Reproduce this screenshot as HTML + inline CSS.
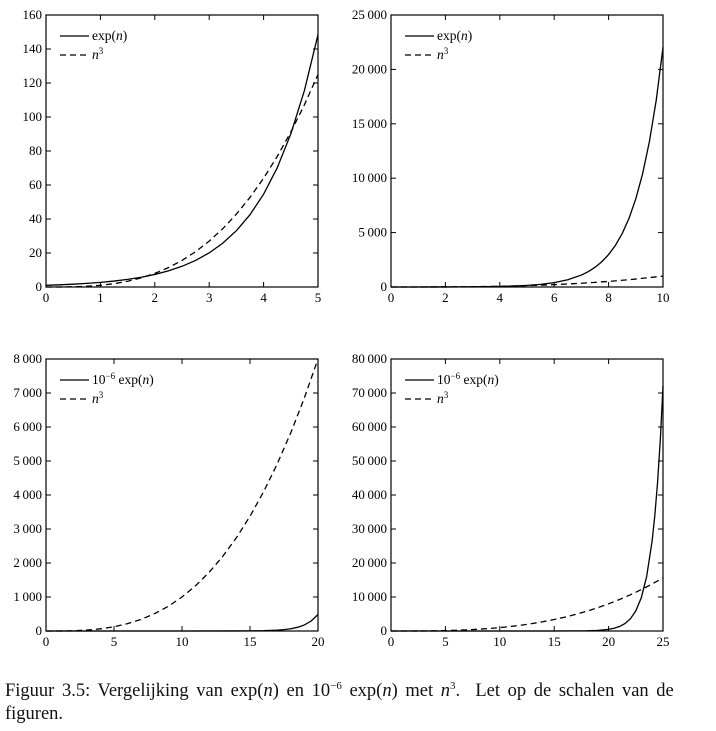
<!DOCTYPE html>
<html><head><meta charset="utf-8"><style>
body{margin:0;background:#fff;width:716px;height:731px;overflow:hidden;font-family:"Liberation Serif",serif}
svg text{font-family:"Liberation Serif",serif}
#cap{position:absolute;left:5px;top:675px;font-size:18.5px;line-height:23px;width:710px;color:#111;word-spacing:3px}
</style></head><body>
<svg id="chart" width="716" height="670" style="position:absolute;left:0;top:0"></svg>
<div id="cap">Figuur 3.5: Vergelijking van exp(<i>n</i>) en 10<sup style="font-size:11px">−6</sup> exp(<i>n</i>) met <i>n</i><sup style="font-size:11px">3</sup>. &nbsp;Let op de schalen van de<br>figuren.</div>
<script>
// Panel 1
const p1N=[0,0.25,0.5,0.75,1,1.25,1.5,1.75,2,2.25,2.5,2.75,3,3.25,3.5,3.75,4,4.25,4.5,4.75,5];
const p1Exp=[1,1.28,1.65,2.12,2.72,3.49,4.48,5.75,7.39,9.49,12.18,15.64,20.09,25.79,33.12,42.52,54.6,70.11,90.02,115.58,148.41];
const p1Cube=[0,0.016,0.125,0.42,1,1.95,3.375,5.36,8,11.39,15.63,20.8,27,34.33,42.875,52.73,64,76.77,91.125,107.17,125];
const p1YTicks=[0,20,40,60,80,100,120,140,160];
const p1XTicks=[0,1,2,3,4,5];
// Panel 2
const p2ExpN=[0,0.5,1,1.5,2,2.5,3,3.5,4,4.5,5,5.5,6,6.5,7,7.25,7.5,7.75,8,8.25,8.5,8.75,9,9.25,9.5,9.75,10];
const p2Exp=[1,1.65,2.72,4.48,7.39,12.18,20.09,33.12,54.6,90.02,148.4,244.7,403.4,665.1,1096.6,1408,1808,2322,2981,3828,4915,6311,8103,10405,13360,17154,22026];
const p2CubeN=[0,1,2,3,4,5,6,7,8,9,10];
const p2Cube=[0,1,8,27,64,125,216,343,512,729,1000];
const p2YTicks=[0,5000,10000,15000,20000,25000];
const p2XTicks=[0,2,4,6,8,10];
// Panel 3
const p3ExpN=[0,5,10,14,15,16,17,17.5,18,18.5,19,19.5,20];
const p3Exp=[0,0,0.02,1.2,3.27,8.9,24.2,39.9,65.7,108.3,178.5,294,485];
const p3CubeN=[0,1,2,3,4,5,6,7,8,9,10,11,12,13,14,15,16,17,18,19,20];
const p3Cube=[0,1,8,27,64,125,216,343,512,729,1000,1331,1728,2197,2744,3375,4096,4913,5832,6859,8000];
const p3YTicks=[0,1000,2000,3000,4000,5000,6000,7000,8000];
const p3XTicks=[0,5,10,15,20];
// Panel 4
const p4ExpN=[0,10,15,18,19,20,20.5,21,21.5,22,22.5,23,23.5,24,24.25,24.5,24.75,25];
const p4Exp=[0,0.02,3.27,65.7,178,485,800,1319,2174,3585,5910,9745,16067,26489,34012,43673,56080,72005];
const p4CubeN=[0,1,2,3,4,5,6,7,8,9,10,11,12,13,14,15,16,17,18,19,20,21,22,23,24,25];
const p4Cube=[0,1,8,27,64,125,216,343,512,729,1000,1331,1728,2197,2744,3375,4096,4913,5832,6859,8000,9261,10648,12167,13824,15625];
const p4YTicks=[0,10000,20000,30000,40000,50000,60000,70000,80000];
const p4XTicks=[0,5,10,15,20,25];

const svg=document.getElementById('chart');
const NS='http://www.w3.org/2000/svg';
function mk(t,a){const e=document.createElementNS(NS,t);for(const k in a)e.setAttribute(k,a[k]);svg.appendChild(e);return e;}
function fmt(v){return v>=1000?String(v).replace(/(\d)(?=(\d{3})+$)/g,'$1\u2009'):String(v);}
function panel(id,x0,y0,w,h,xmax,ymax,xt,yt,s1n,s1,s2n,s2,lab1,big){
  const sx=v=>x0+v/xmax*w, sy=v=>y0+h-v/ymax*h;
  let f=mk('rect',{x:x0,y:y0,width:w,height:h,fill:'none',stroke:'#000','stroke-width':1.2});
  
  yt.forEach(v=>{const y=sy(v);
    let t=mk('line',{x1:x0,x2:x0+5,y1:y,y2:y,stroke:'#000'});
    mk('line',{x1:x0+w-5,x2:x0+w,y1:y,y2:y,stroke:'#000'});
    let l=mk('text',{x:x0-4,y:y+4,'text-anchor':'end','font-size':13});l.textContent=fmt(v);
    });
  xt.forEach(v=>{const x=sx(v);
    let t=mk('line',{x1:x,x2:x,y1:y0+h,y2:y0+h-5,stroke:'#000'});
    mk('line',{x1:x,x2:x,y1:y0,y2:y0+5,stroke:'#000'});
    let l=mk('text',{x:x,y:y0+h+15,'text-anchor':'middle','font-size':13});l.textContent=fmt(v);
    });
  const clip=v=>Math.min(v,ymax);
  let p1=mk('polyline',{points:s1n.map((n,i)=>sx(n)+','+sy(clip(s1[i]))).join(' '),fill:'none',stroke:'#000','stroke-width':1.3});
  
  let p2=mk('polyline',{points:s2n.map((n,i)=>sx(n)+','+sy(clip(s2[i]))).join(' '),fill:'none',stroke:'#000','stroke-width':1.3,'stroke-dasharray':'6,4'});
  
  const lx=x0+14, ly=y0+21;
  let a=mk('line',{x1:lx,x2:lx+29,y1:ly,y2:ly,stroke:'#000','stroke-width':1.3});
  let t1=mk('text',{x:lx+32,y:ly+4,'font-size':13.5});
  if(big){t1.innerHTML='10<tspan dy="-5" font-size="9">−6</tspan><tspan dy="5"> exp(</tspan><tspan font-style="italic">n</tspan>)';}
  else{t1.innerHTML='exp(<tspan font-style="italic">n</tspan>)';}
  let b=mk('line',{x1:lx,x2:lx+29,y1:ly+19,y2:ly+19,stroke:'#000','stroke-width':1.3,'stroke-dasharray':'6,4'});
  let t2=mk('text',{x:lx+32,y:ly+23,'font-size':13.5});t2.innerHTML='<tspan font-style="italic">n</tspan><tspan dy="-5" font-size="9">3</tspan>';
}
panel('panel1',46,15,272,272,5,160,p1XTicks,p1YTicks,p1N,p1Exp,p1N,p1Cube,'',false);
panel('panel2',391,15,272,272,10,25000,p2XTicks,p2YTicks,p2ExpN,p2Exp,p2CubeN,p2Cube,'',false);
panel('panel3',46,359,272,272,20,8000,p3XTicks,p3YTicks,p3ExpN,p3Exp,p3CubeN,p3Cube,'',true);
panel('panel4',391,359,272,272,25,80000,p4XTicks,p4YTicks,p4ExpN,p4Exp,p4CubeN,p4Cube,'',true);
</script>
</body></html>
